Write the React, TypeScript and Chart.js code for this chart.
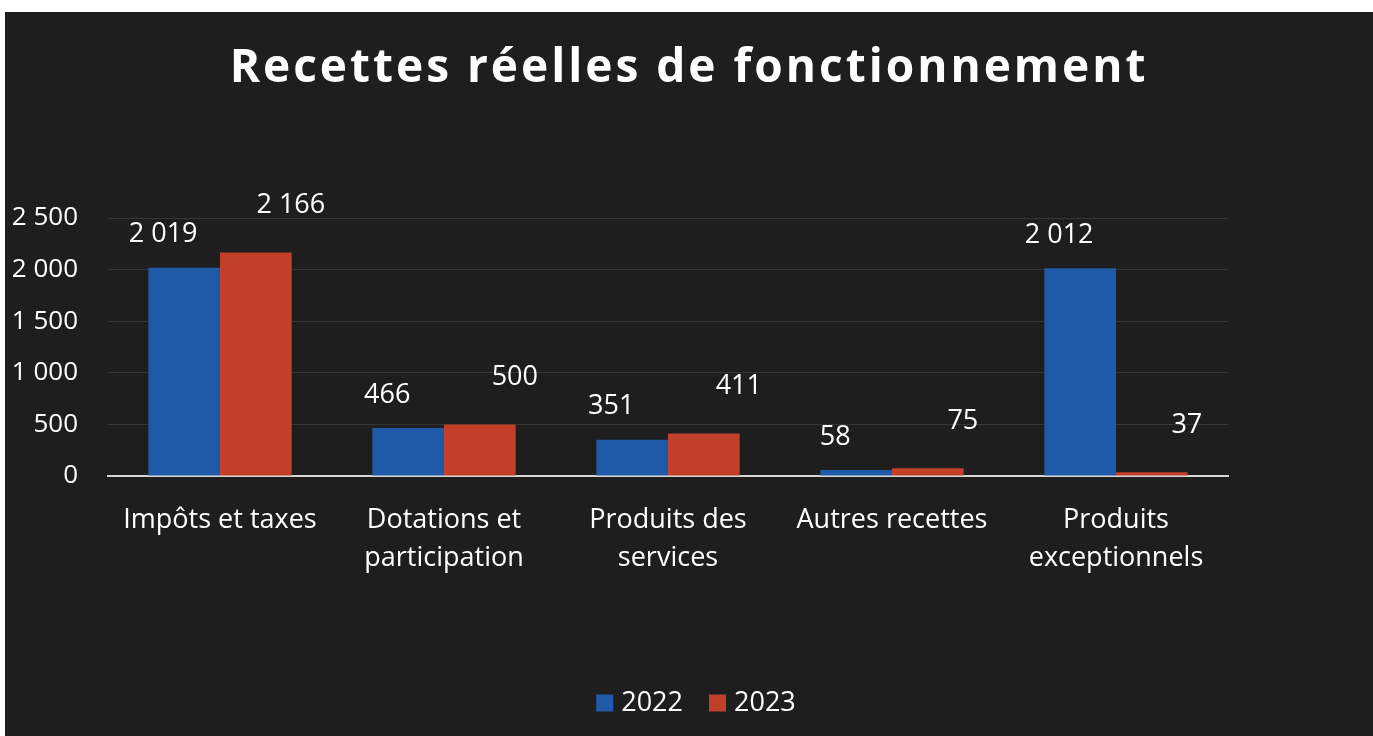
import React, { useEffect, useRef } from "react";
import { Chart, registerables } from "chart.js";

Chart.register(...registerables);

const TITLE = "Recettes réelles de fonctionnement";
const categories: (string | string[])[] = [
  "Impôts et taxes",
  ["Dotations et", "participation"],
  ["Produits des", "services"],
  "Autres recettes",
  ["Produits", "exceptionnels"],
];
const values2022 = [2019, 466, 351, 58, 2012];
const values2023 = [2166, 500, 411, 75, 37];
const yTicks = [0, 500, 1000, 1500, 2000, 2500];

const FONT = "'Open Sans', 'DejaVu Sans', sans-serif";
const fmt = (v: number) => {
  const s = Math.round(v).toString();
  return s.replace(/\B(?=(\d{3})+(?!\d))/g, " ");
};

const bgPlugin = {
  id: "bg",
  beforeDraw(chart: any) {
    const { ctx, width, height } = chart;
    ctx.save();
    ctx.fillStyle = "#ffffff";
    ctx.fillRect(0, 0, width, height);
    ctx.fillStyle = "#1e1e1e";
    ctx.fillRect(5, 12, width - 5, height - 12);
    ctx.restore();
  },
};

const titlePlugin = {
  id: "spacedTitle",
  afterDraw(chart: any) {
    const { ctx } = chart;
    ctx.save();
    ctx.fillStyle = "#ffffff";
    ctx.font = `bold 46px ${FONT}`;
    (ctx as any).letterSpacing = "3px";
    ctx.textAlign = "center";
    ctx.textBaseline = "middle";
    ctx.fillText(TITLE, 689, 69);
    ctx.restore();
  },
};

const legendPlugin = {
  id: "customLegend",
  afterDraw(chart: any) {
    const { ctx } = chart;
    ctx.save();
    ctx.font = `27px ${FONT}`;
    ctx.textBaseline = "middle";
    ctx.textAlign = "left";
    const box = 17;
    const gap = 8;
    const itemGap = 26;
    const items = chart.data.datasets.map((ds: any) => ({
      label: ds.label,
      color: ds.backgroundColor,
      w: box + gap + ctx.measureText(ds.label).width,
    }));
    const total = items.reduce((a: number, it: any) => a + it.w, 0) + itemGap * (items.length - 1);
    let x = 696 - total / 2;
    const y = 703;
    items.forEach((it: any) => {
      ctx.fillStyle = it.color;
      ctx.fillRect(x, y - box / 2, box, box);
      ctx.fillStyle = "#ffffff";
      ctx.fillText(it.label, x + box + gap, y);
      x += it.w + itemGap;
    });
    ctx.restore();
  },
};

const labelShift = [
  { dx: -21, dy: -33 },
  { dx: 35, dy: -47 },
];

const labelPlugin = {
  id: "valueLabels",
  afterDatasetsDraw(chart: any) {
    const { ctx } = chart;
    ctx.save();
    ctx.fillStyle = "#ffffff";
    ctx.font = `27px ${FONT}`;
    ctx.textAlign = "center";
    ctx.textBaseline = "middle";
    chart.data.datasets.forEach((ds: any, i: number) => {
      const meta = chart.getDatasetMeta(i);
      const sh = labelShift[i];
      meta.data.forEach((el: any, j: number) => {
        ctx.fillText(fmt(ds.data[j]), el.x + sh.dx, el.y + sh.dy);
      });
    });
    ctx.restore();
  },
};

export default function App() {
  const ref = useRef<HTMLCanvasElement | null>(null);
  useEffect(() => {
    document.body.style.margin = "0";
    const canvas = ref.current!;
    const chart = new Chart(canvas, {
      type: "bar",
      data: {
        labels: categories,
        datasets: [
          { label: "2022", data: values2022, backgroundColor: "#1f5aa8", borderWidth: 0 },
          { label: "2023", data: values2023, backgroundColor: "#c2402a", borderWidth: 0 },
        ],
      },
      options: {
        responsive: false,
        animation: false,
        devicePixelRatio: 1,
        layout: { padding: { left: 8, right: 145, top: 218, bottom: 55 } },
        datasets: { bar: { categoryPercentage: 0.64, barPercentage: 1 } },
        plugins: {
          title: { display: false },
          legend: { display: false },
          tooltip: { enabled: false },
        },
        scales: {
          x: {
            grid: { display: false, drawTicks: false },
            border: { display: true, color: "#d8d8d8", width: 2 },
            ticks: {
              color: "#ffffff",
              font: { family: FONT, size: 27, lineHeight: 1.41 },
              padding: 25,
              maxRotation: 0,
              autoSkip: false,
            },
            afterFit: (axis: any) => {
              axis.height = 205;
            },
          },
          y: {
            min: 0,
            max: 2500,
            afterBuildTicks: (axis: any) => {
              axis.ticks = yTicks.map((v) => ({ value: v }));
            },
            grid: { color: "#363636", lineWidth: 1, drawTicks: false },
            border: { display: false },
            ticks: {
              color: "#ffffff",
              font: { family: FONT, size: 26 },
              padding: 30,
              callback: (v: any) => fmt(Number(v)),
            },
            afterFit: (axis: any) => {
              axis.width = 100;
            },
          },
        },
      },
      plugins: [bgPlugin, labelPlugin, titlePlugin, legendPlugin],
    });
    return () => chart.destroy();
  }, []);
  return <canvas ref={ref} width={1373} height={736} style={{ display: "block" }} />;
}
